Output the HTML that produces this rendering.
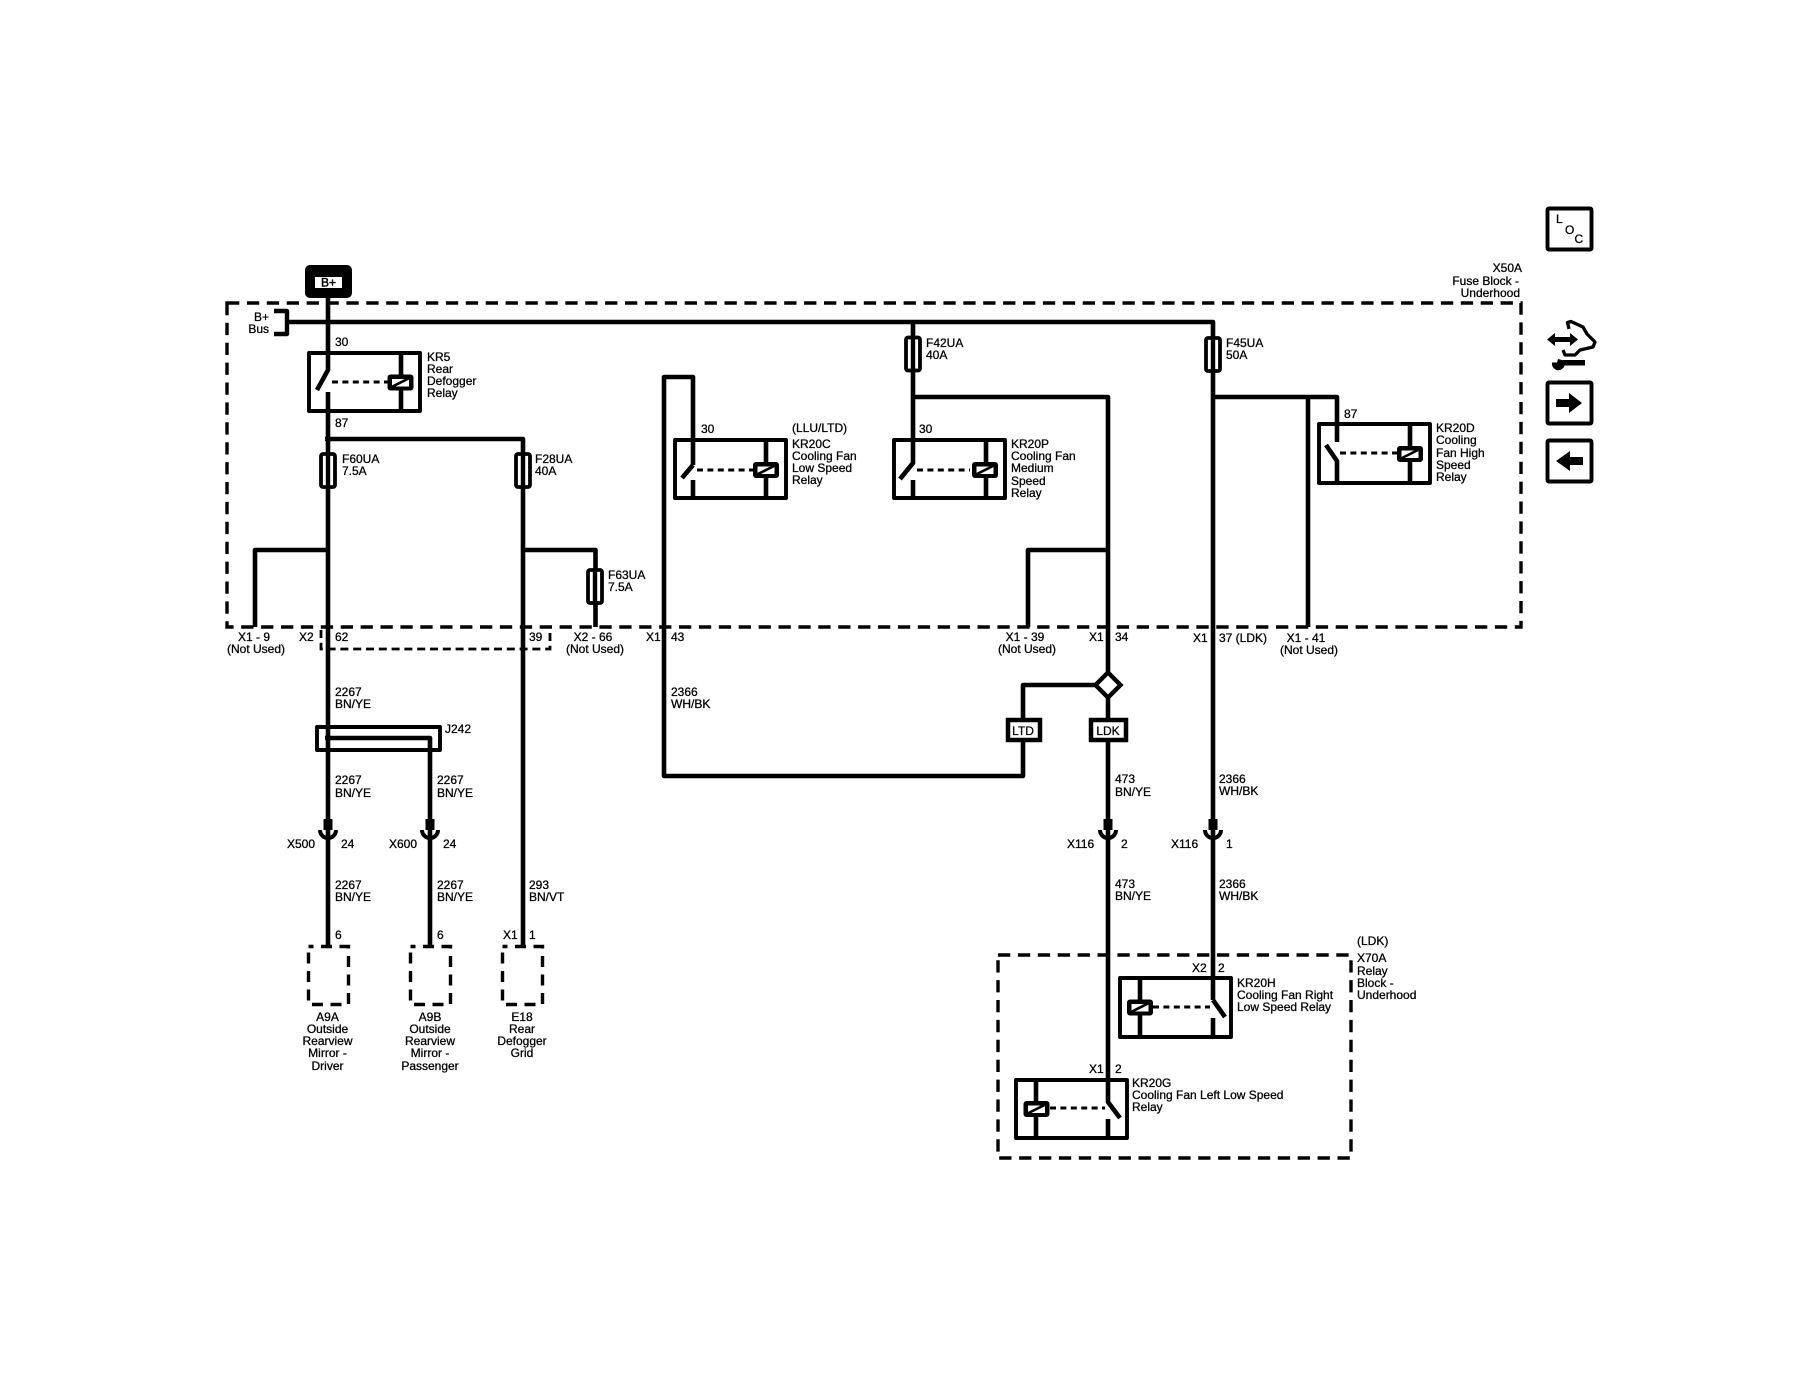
<!DOCTYPE html>
<html><head><meta charset="utf-8"><style>
html,body{margin:0;padding:0;background:#fff}
svg{display:block}
text{font-family:"Liberation Sans",sans-serif;font-size:12px;fill:#000;stroke:#000;stroke-width:.28}
.m{text-anchor:middle}.e{text-anchor:end}
.w{fill:none;stroke:#000;stroke-width:4.6;stroke-linejoin:round}
.b{fill:none;stroke:#000;stroke-width:3.9;stroke-linejoin:round}
.f{fill:#fff;stroke:#000;stroke-width:3.8}
.d{fill:none;stroke:#000;stroke-width:3.4;stroke-dasharray:12.3 7.6}
.t{fill:none;stroke:#000;stroke-width:2.8;stroke-dasharray:8 4.8}
.l{fill:none;stroke:#000;stroke-width:3;stroke-dasharray:6 4.4}
</style></head><body>
<svg width="1800" height="1376" viewBox="0 0 1800 1376" xmlns="http://www.w3.org/2000/svg">
<defs>
<g id="coil"><rect x="-13" y="-8" width="26" height="16" rx="3" fill="#000"/><rect x="-8.5" y="-3.5" width="17" height="7.5" fill="#fff"/><path d="M-9 4.5L8 -4" stroke="#000" stroke-width="2.6"/></g>
<g id="cup"><rect x="-4.5" y="-13" width="9" height="11" fill="#000"/><path d="M-8 -2A8 8 0 0 0 8 -2" fill="none" stroke="#000" stroke-width="4"/></g>
<g id="fuse"><rect x="-7" y="-16.5" width="14" height="33" rx="2" class="f"/><path d="M0 -17V17" stroke="#000" stroke-width="4.4"/></g>
</defs>

<!-- Fuse block -->
<rect x="227" y="303" width="1294" height="324" class="d"/>
<!-- X2 dashed -->
<path d="M321 630V649H550V630" class="t"/>

<!-- B+ -->
<rect x="305" y="265" width="47" height="33" rx="5" fill="#000"/>
<rect x="315" y="277" width="27" height="11" fill="#fff"/>
<text x="328.5" y="286.5" class="m" style="stroke-width:.45">B+</text>
<text x="269" y="321" class="e">B+</text>
<text x="269" y="333" class="e">Bus</text>
<path d="M274 311H287V334H274" class="b" style="stroke-width:4.4"/>
<path d="M287 322H1213V1000" class="w"/>

<!-- KR5 + left column -->
<path d="M328 298V370L317 390" class="w"/>
<path d="M328 392V947" class="w"/>
<rect x="309" y="353" width="111" height="58" class="b"/>
<path d="M401 353V411" class="w"/>
<path d="M332 382H388" class="l"/>
<use href="#coil" x="400.5" y="382.5"/>
<text x="335" y="346">30</text>
<text x="427" y="361">KR5</text><text x="427" y="373">Rear</text><text x="427" y="385">Defogger</text><text x="427" y="397">Relay</text>
<text x="335" y="427">87</text>
<path d="M325 439H523V947" class="w"/>
<use href="#fuse" x="328" y="470.5"/>
<use href="#fuse" x="523" y="470.5"/>
<text x="342" y="463">F60UA</text><text x="342" y="475">7.5A</text>
<text x="535" y="463">F28UA</text><text x="535" y="475">40A</text>
<path d="M330 550H255V627" class="w"/>
<path d="M521 550H595.500V627" class="w"/>
<use href="#fuse" x="595" y="586.5"/>
<text x="608" y="579">F63UA</text><text x="608" y="591">7.5A</text>

<text x="254" y="641" class="m">X1 - 9</text><text x="256" y="653" class="m">(Not Used)</text>
<text x="299" y="641">X2</text><text x="335" y="641">62</text><text x="529" y="641">39</text>
<text x="593" y="641" class="m">X2 - 66</text><text x="595" y="653" class="m">(Not Used)</text>
<text x="646" y="641">X1</text><text x="671" y="641">43</text>

<text x="335" y="696">2267</text><text x="335" y="708">BN/YE</text>
<rect x="317" y="727" width="123" height="23" class="b"/>
<path d="M325 738H430V947" class="w"/>
<text x="445" y="733">J242</text>
<text x="335" y="784">2267</text><text x="335" y="797">BN/YE</text>
<text x="437" y="784">2267</text><text x="437" y="797">BN/YE</text>
<use href="#cup" x="328" y="832"/><use href="#cup" x="430" y="832"/>
<text x="287" y="848">X500</text><text x="341" y="848">24</text>
<text x="389" y="848">X600</text><text x="443" y="848">24</text>
<text x="335" y="889">2267</text><text x="335" y="901">BN/YE</text>
<text x="437" y="889">2267</text><text x="437" y="901">BN/YE</text>
<text x="529" y="889">293</text><text x="529" y="901">BN/VT</text>
<text x="335" y="939">6</text><text x="437" y="939">6</text>
<text x="503" y="939">X1</text><text x="529" y="939">1</text>
<rect x="308.5" y="946.5" width="40" height="58" class="d" style="stroke-dasharray:11 7.5;stroke-dashoffset:6"/>
<rect x="410.5" y="946.5" width="40" height="58" class="d" style="stroke-dasharray:11 7.5;stroke-dashoffset:6"/>
<rect x="502.5" y="946.5" width="40" height="58" class="d" style="stroke-dasharray:11 7.5;stroke-dashoffset:6"/>
<text x="327.5" y="1021" class="m">A9A</text><text x="327.5" y="1033" class="m">Outside</text><text x="327.5" y="1045" class="m">Rearview</text><text x="327.5" y="1057" class="m">Mirror -</text><text x="327.5" y="1070" class="m">Driver</text>
<text x="430" y="1021" class="m">A9B</text><text x="430" y="1033" class="m">Outside</text><text x="430" y="1045" class="m">Rearview</text><text x="430" y="1057" class="m">Mirror -</text><text x="430" y="1070" class="m">Passenger</text>
<text x="522" y="1021" class="m">E18</text><text x="522" y="1033" class="m">Rear</text><text x="522" y="1045" class="m">Defogger</text><text x="522" y="1057" class="m">Grid</text>

<!-- KR20C -->
<path d="M693 465V377H664V776H1023V685H1096" class="w"/>
<path d="M693 465L682 478" class="w"/>
<path d="M693 480V498" class="w"/>
<rect x="675" y="440" width="111" height="58" class="b"/>
<path d="M766 440V498" class="w"/>
<path d="M697 470H753" class="l"/>
<use href="#coil" x="766" y="470"/>
<text x="701" y="433">30</text><text x="792" y="432">(LLU/LTD)</text>
<text x="792" y="448">KR20C</text><text x="792" y="460">Cooling Fan</text><text x="792" y="472">Low Speed</text><text x="792" y="484">Relay</text>

<!-- KR20P -->
<path d="M913 322V463L900 479" class="w"/>
<path d="M913 480V498" class="w"/>
<rect x="894" y="440" width="111" height="58" class="b"/>
<path d="M986 440V498" class="w"/>
<path d="M917 470H970" class="l"/>
<use href="#coil" x="985" y="470"/>
<use href="#fuse" x="913" y="354"/>
<text x="926" y="347">F42UA</text><text x="926" y="359">40A</text>
<text x="919" y="433">30</text>
<text x="1011" y="448">KR20P</text><text x="1011" y="460">Cooling Fan</text><text x="1011" y="472">Medium</text><text x="1011" y="485">Speed</text><text x="1011" y="497">Relay</text>
<path d="M911 397H1108V1102L1120 1118" class="w"/>
<path d="M1110 550H1028V627" class="w"/>
<text x="1025" y="641" class="m">X1 - 39</text><text x="1027" y="653" class="m">(Not Used)</text>
<text x="1089" y="641">X1</text><text x="1115" y="641">34</text>
<text x="671" y="696">2366</text><text x="671" y="708">WH/BK</text>

<!-- Diamond, LTD, LDK -->
<path d="M1108 672.5L1120.5 685L1108 697.5L1095.5 685Z" fill="#fff" stroke="#000" stroke-width="4.4"/>
<rect x="1008" y="720" width="32" height="20" fill="#fff" stroke="#000" stroke-width="4.5"/>
<text x="1023" y="735" class="m">LTD</text>
<rect x="1091" y="720" width="35" height="20" fill="#fff" stroke="#000" stroke-width="4.5"/>
<text x="1108" y="735" class="m">LDK</text>
<text x="1115" y="783">473</text><text x="1115" y="796">BN/YE</text>
<use href="#cup" x="1108" y="832"/>
<text x="1067" y="848">X116</text><text x="1121" y="848">2</text>
<text x="1115" y="888">473</text><text x="1115" y="900">BN/YE</text>

<!-- F45 -->
<use href="#fuse" x="1213" y="354.5"/>
<text x="1226" y="347">F45UA</text><text x="1226" y="359">50A</text>
<path d="M1211 397H1337V442" class="w"/>
<path d="M1308 397V627" class="w"/>
<path d="M1326 445L1337 461V483" class="w"/>
<rect x="1319" y="424" width="111" height="59" class="b"/>
<path d="M1410 424V483" class="w"/>
<path d="M1340 453H1397" class="l"/>
<use href="#coil" x="1410" y="454"/>
<text x="1344" y="418">87</text>
<text x="1436" y="432">KR20D</text><text x="1436" y="444">Cooling</text><text x="1436" y="457">Fan High</text><text x="1436" y="469">Speed</text><text x="1436" y="481">Relay</text>
<text x="1522" y="272" class="e">X50A</text><text x="1519" y="285" class="e">Fuse Block -</text><text x="1520" y="297" class="e">Underhood</text>
<text x="1193" y="642">X1</text><text x="1219" y="642">37 (LDK)</text>
<text x="1306" y="642" class="m">X1 - 41</text><text x="1309" y="654" class="m">(Not Used)</text>
<text x="1219" y="783">2366</text><text x="1219" y="795">WH/BK</text>
<use href="#cup" x="1213" y="832"/>
<text x="1171" y="848">X116</text><text x="1226" y="848">1</text>
<text x="1219" y="888">2366</text><text x="1219" y="900">WH/BK</text>

<!-- X70A -->
<rect x="998" y="955" width="353" height="203" class="d"/>
<text x="1357" y="945">(LDK)</text><text x="1357" y="962">X70A</text><text x="1357" y="975">Relay</text><text x="1357" y="987">Block -</text><text x="1357" y="999">Underhood</text>
<rect x="1120" y="978" width="111" height="59" class="b"/>
<path d="M1140 978V1037" class="w"/>
<path d="M1213 1000L1225 1017" class="w"/>
<path d="M1213 1018V1037" class="w"/>
<path d="M1153 1007H1210" class="l"/>
<use href="#coil" x="1140" y="1007.5"/>
<text x="1192" y="972">X2</text><text x="1218" y="972">2</text>
<text x="1237" y="987">KR20H</text><text x="1237" y="999">Cooling Fan Right</text><text x="1237" y="1011">Low Speed Relay</text>
<rect x="1016" y="1080" width="111" height="58" class="b"/>
<path d="M1036 1080V1138" class="w"/>
<path d="M1108 1119V1138" class="w"/>
<path d="M1050 1108H1105" class="l"/>
<use href="#coil" x="1036.5" y="1109"/>
<text x="1089" y="1073">X1</text><text x="1115" y="1073">2</text>
<text x="1132" y="1087">KR20G</text><text x="1132" y="1099">Cooling Fan Left Low Speed</text><text x="1132" y="1111">Relay</text>

<!-- Right icons -->
<rect x="1547.5" y="208.5" width="44" height="41" rx="1.5" class="b"/>
<text x="1556" y="223">L</text><text x="1565" y="234">O</text><text x="1574.500" y="243">C</text>
<path d="M1547 339.500L1555 333V337H1570V333L1578 339.500L1570 346V342H1555V346Z" fill="#000"/>
<path d="M1569 329L1567.500 322.500L1571 321.500L1583 327L1587 334L1595 342L1593 347L1580 350L1575 355L1565 355L1563 350" fill="none" stroke="#000" stroke-width="3.3" stroke-linejoin="round"/>
<path d="M1563 360H1585V365.500H1563Z" fill="#000"/>
<path d="M1552 362.500A6.500 6.500 0 0 0 1564 367L1566 361L1558 359L1557 362.500Z" fill="#000"/>
<rect x="1547.500" y="382.500" width="44" height="41" rx="1.5" class="b"/>
<path d="M1556 399H1569V393L1582 403L1569 413V407H1556Z" fill="#000"/>
<rect x="1547.500" y="440.500" width="44" height="41" rx="1.5" class="b"/>
<path d="M1583 457H1570V451L1556 461L1570 471V465H1583Z" fill="#000"/>
</svg>
</body></html>
